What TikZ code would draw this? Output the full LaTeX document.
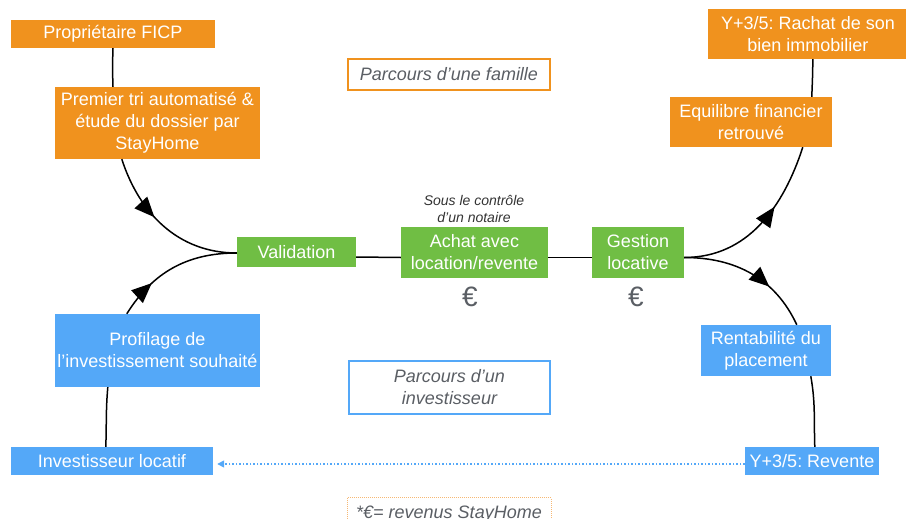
\documentclass[tikz,border=0pt]{standalone}
\usepackage{fontspec}
\setmainfont{Liberation Sans}
\frenchspacing
\usetikzlibrary{arrows.meta,decorations.markings,calc}
\definecolor{orng}{RGB}{240,146,30}
\definecolor{grn}{RGB}{112,190,68}
\definecolor{blu}{RGB}{84,168,248}
\definecolor{gry}{RGB}{90,94,100}
\definecolor{lorng}{RGB}{246,184,116}
\tikzset{
  box/.style={inner sep=0pt, text=white, align=center, font=\fontsize{18}{22}\selectfont},
  obox/.style={box, fill=orng},
  gbox/.style={box, fill=grn},
  bbox/.style={box, fill=blu},
  label box/.style={inner sep=0pt, align=center, text=gry, font=\fontsize{18}{22}\selectfont\itshape},
  flow/.style={line width=1.5pt, black},
  midarrow/.style={postaction={decorate}, decoration={markings, mark=at position #1 with {\arrow{Triangle[length=20pt,width=17pt]}}}},
}
\begin{document}
\begin{tikzpicture}[x=1pt,y=-1pt]
\useasboundingbox (0,0) rectangle (906,519);
% orange boxes
\node[obox, minimum width=204pt, minimum height=28pt] (ficp) at (113,34) {Propriétaire FICP};
\node[obox, minimum width=205pt, minimum height=72pt] (tri) at (157.5,123) {Premier tri automatisé \&\\étude du dossier par\\StayHome};
\node[obox, minimum width=200pt, minimum height=50pt] (rach) at (808,34) {Y+3/5: Rachat de son\\bien immobilier};
\node[obox, minimum width=162pt, minimum height=50pt] (equ) at (751,122) {Equilibre financier\\retrouvé};
% green boxes
\node[gbox, minimum width=119pt, minimum height=30pt] (val) at (296.5,252) {Validation};
\node[gbox, minimum width=147pt, minimum height=51pt] (ach) at (474.5,252.5) {Achat avec\\location/revente};
\node[gbox, minimum width=92pt, minimum height=51pt] (ges) at (638,252.5) {Gestion\\locative};
% blue boxes
\node[bbox, minimum width=205pt, minimum height=73pt] (prof) at (157.5,350.5) {Profilage de\\l’investissement souhaité};
\node[bbox, minimum width=202pt, minimum height=28pt] (inv) at (112,461) {Investisseur locatif};
\node[bbox, minimum width=130pt, minimum height=51pt] (rent) at (766,350.5) {Rentabilité du\\placement};
\node[bbox, minimum width=134pt, minimum height=28pt] (rev) at (812,461) {Y+3/5: Revente};
% legend boxes
\node[label box, draw=orng, line width=1.8pt, minimum width=202pt, minimum height=31pt] (fam) at (449,74.5) {Parcours d’une famille};
\node[label box, draw=blu, line width=1.8pt, minimum width=201pt, minimum height=53pt] (invp) at (449.5,387.5) {Parcours d’un\\investisseur};
\node[label box, draw=lorng, densely dotted, line width=1pt, minimum width=204pt, minimum height=34pt, anchor=north] (note) at (449,497) {*€= revenus StayHome};
% texts
\node[inner sep=0pt, align=center, text=black!80, font=\fontsize{14}{16.5}\selectfont\itshape] (notaire) at (474,209) {Sous le contrôle\\d’un notaire};
\node[inner sep=0pt, text=gry, font=\fontsize{28}{28}\selectfont] (eur1) at (470,297) {€};
\node[inner sep=0pt, text=gry, font=\fontsize{28}{28}\selectfont] (eur2) at (636,297) {€};
% connectors
\draw[flow] (ficp.south) to[out=-92,in=92] (tri.north -| ficp.south);
\draw[flow, midarrow=0.42] ($(tri.south west)+(67,0)$) to[out=-72,in=180] ($(val.west)+(0,1)$);
\draw[flow, midarrow=0.3] ($(prof.north west)+(72,0)$) to[out=58,in=180] ($(val.west)+(0,1)$);
\draw[flow] ($(inv.north west)+(95,0)$) to[out=88,in=-95] ($(prof.south west)+(53,0)$);
\draw[flow] ($(val.east)+(0,5)$) -- ($(ach.west)+(0,5)$);
\draw[flow] ($(ach.east)+(0,5)$) -- ($(ges.west)+(0,5)$);
\draw[flow, midarrow=0.62] ($(ges.east)+(0,5)$) to[out=0,in=-108] ($(equ.south west)+(133,0)$);
\draw[flow, midarrow=0.66] ($(ges.east)+(0,5)$) to[out=0,in=115] ($(rent.north west)+(96,0)$);
\draw[flow] ($(equ.north west)+(142,0)$) to[out=88,in=-90] ($(rach.south west)+(105,0)$);
\draw[flow] ($(rent.south west)+(110,0)$) to[out=-80,in=92] ($(rev.north west)+(70,0)$);
\draw[blu, line width=1.5pt, dotted, -{Triangle[length=7pt,width=7pt]}, shorten >=4pt] ($(rev.west)+(0,3)$) -- ($(inv.east)+(0,3)$);
\end{tikzpicture}
\end{document}
